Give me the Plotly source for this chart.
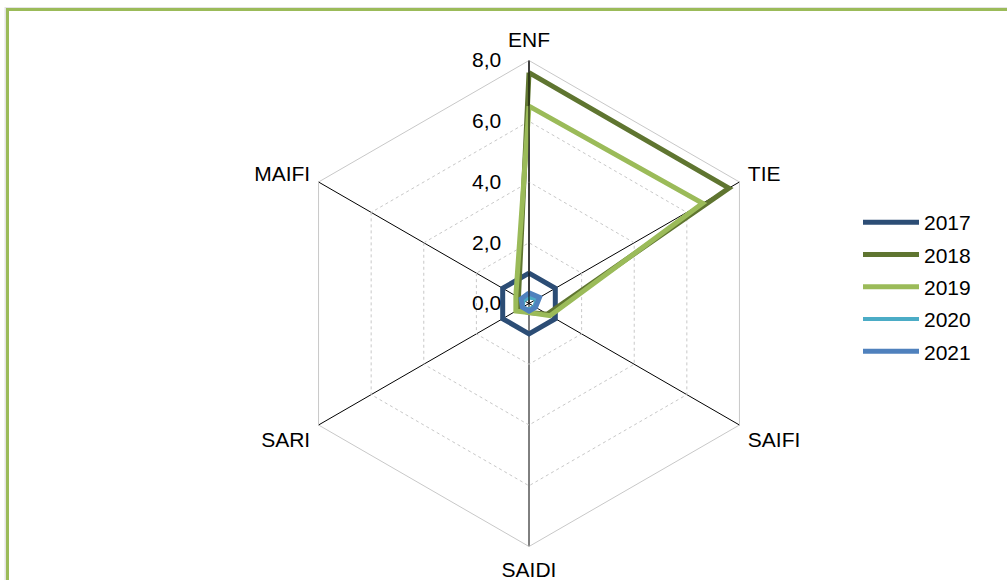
import plotly.graph_objects as go

categories = ["ENF", "TIE", "SAIFI", "SAIDI", "SARI", "MAIFI"]
years = ["2017", "2018", "2019", "2020", "2021"]
v2017 = [1.0, 1.0, 1.0, 1.0, 1.0, 1.0]
v2018 = [7.6, 7.6, 0.7, 0.3, 0.4, 0.4]
v2019 = [6.5, 6.6, 0.8, 0.3, 0.5, 0.5]
v2020 = [0.2, 0.3, 0.2, 0.2, 0.25, 0.2]
v2021 = [0.35, 0.4, 0.25, 0.25, 0.25, 0.3]
radial_ticks = [0, 2, 4, 6, 8]

series = [v2017, v2018, v2019, v2020, v2021]
colors = ["#2c4d75", "#5f7530", "#9bbb59", "#4bacc6", "#4f81bd"]
widths = [5, 5, 5, 4, 5]

fig = go.Figure()
for name, vals, col, w in zip(years, series, colors, widths):
    fig.add_trace(go.Scatterpolar(
        r=vals + vals[:1],
        theta=categories + categories[:1],
        mode="lines",
        name=name,
        line=dict(color=col, width=w),
        legendgroup=name,
    ))

cx, cy, R = 529, 303.5, 243
W, H = 1007, 580
FS = 21
fig.update_layout(
    width=W, height=H,
    separators=",.",
    paper_bgcolor="white",
    plot_bgcolor="white",
    margin=dict(l=0, r=0, t=0, b=0),
    font=dict(family="Liberation Sans, Arial, sans-serif", size=FS, color="black"),
    polar=dict(
        domain=dict(x=[(cx - R) / W, (cx + R) / W], y=[(H - cy - R) / H, (H - cy + R) / H]),
        gridshape="linear",
        bgcolor="white",
        radialaxis=dict(
            range=[0, 8], tickvals=radial_ticks, tickformat=".1f",
            angle=90, tickangle=90, side="counterclockwise",
            showline=True, linecolor="black", linewidth=1,
            gridcolor="#c8c8c8", griddash="dot", gridwidth=1,
            ticks="outside", ticklen=20, tickcolor="rgba(0,0,0,0)",
            tickfont=dict(size=FS),
        ),
        angularaxis=dict(
            direction="clockwise", rotation=90,
            gridcolor="black", gridwidth=1,
            showline=True, linecolor="#c8c8c8", linewidth=1,
            ticks="outside", ticklen=5, tickcolor="rgba(0,0,0,0)",
            tickfont=dict(size=FS),
        ),
    ),
    legend=dict(
        x=858 / W, y=1 - 202 / H, xanchor="left", yanchor="top",
        font=dict(size=FS), tracegroupgap=2,
        bgcolor="rgba(0,0,0,0)", itemwidth=56,
    ),
    shapes=[
        dict(type="rect", xref="paper", yref="paper",
             x0=5.5 / W, x1=1.02, y0=-0.02, y1=1 - 8 / H,
             line=dict(color="#e4e4e4", width=2)),
        dict(type="rect", xref="paper", yref="paper",
             x0=7.5 / W, x1=1.02, y0=-0.02, y1=1 - 9.5 / H,
             line=dict(color="#9bbb59", width=3)),
    ],
)

fig.write_html("out.html", config={"displayModeBar": False},
               post_script="document.body.style.margin='0px';")
